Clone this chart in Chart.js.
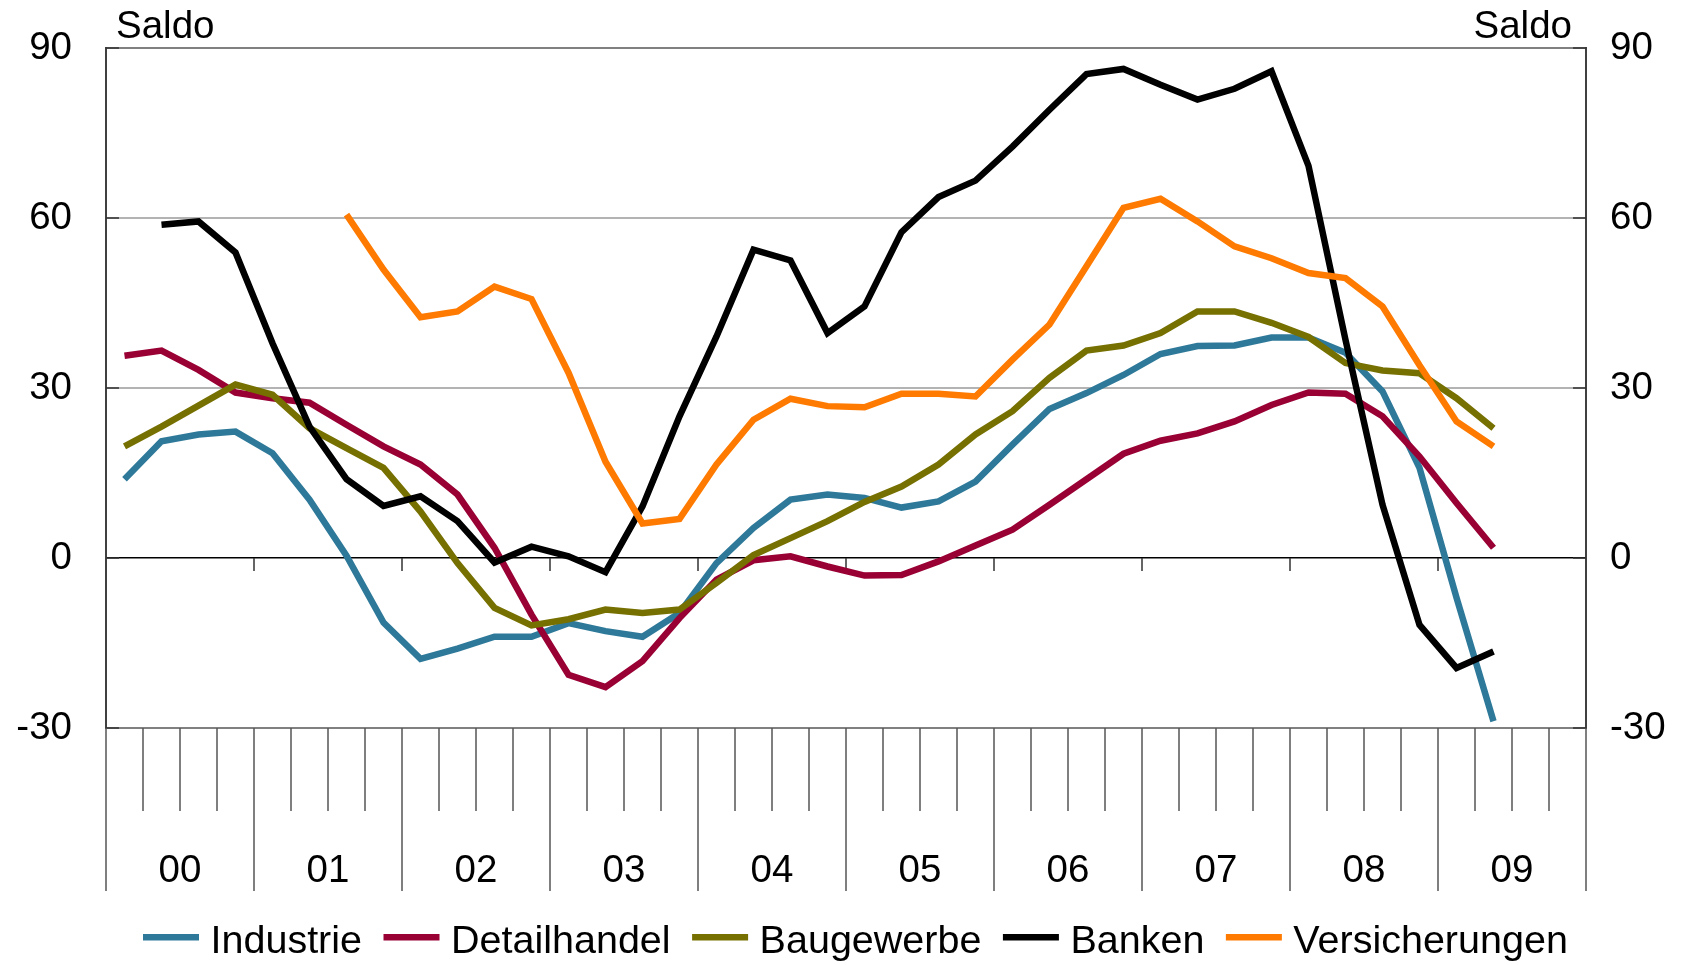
<!DOCTYPE html>
<html>
<head>
<meta charset="utf-8">
<title>Saldo</title>
<script src="https://cdn.jsdelivr.net/npm/chart.js@4.4.1/dist/chart.umd.min.js"></script>
<style>
  html, body { margin: 0; padding: 0; background: #fff; }
  #wrap { width: 1689px; height: 965px; }
</style>
</head>
<body>
<div id="wrap"><canvas id="myChart"></canvas></div>
<script>
// years on the axis, four quarters each
const years = ["00", "01", "02", "03", "04", "05", "06", "07", "08", "09"];
const quarters = ["Q1", "Q2", "Q3", "Q4"];
const yTicks = [-30, 0, 30, 60, 90];

const industrie = [13.9, 20.6, 21.8, 22.3, 18.5, 10.3, 0.4, -11.4, -17.8, -16.0,
  -13.9, -13.9, -11.5, -12.9, -13.9, -9.7, -0.9, 5.3, 10.3, 11.2,
  10.6, 8.9, 10.0, 13.5, 20.0, 26.3, 29.1, 32.3, 36.0, 37.4,
  37.5, 38.9, 38.9, 36.2, 29.4, 15.9, -7.0, -28.8];
const detailhandel = [35.7, 36.6, 33.2, 29.2, 28.2, 27.4, 23.5, 19.7, 16.5, 11.2,
  1.8, -10.0, -20.6, -22.8, -18.2, -10.6, -3.8, -0.4, 0.3, -1.5,
  -3.1, -3.0, -0.6, 2.2, 5.0, 9.4, 13.9, 18.4, 20.7, 22.0,
  24.1, 27.0, 29.2, 29.0, 25.0, 17.9, 9.7, 1.8];
const baugewerbe = [19.7, 23.2, 26.9, 30.6, 28.8, 22.9, 19.4, 15.9, 8.2, -0.9,
  -8.8, -11.9, -10.8, -9.1, -9.7, -9.1, -4.4, 0.5, 3.5, 6.5,
  9.9, 12.6, 16.5, 21.8, 25.9, 31.8, 36.6, 37.5, 39.7, 43.5,
  43.5, 41.5, 39.0, 34.4, 33.1, 32.6, 28.2, 22.9];
const banken = [null, 58.8, 59.4, 53.9, 37.9, 23.2, 13.9, 9.2, 10.9, 6.5,
  -0.8, 2.0, 0.3, -2.5, 9.1, 25.0, 39.1, 54.4, 52.5, 39.7,
  44.4, 57.5, 63.7, 66.6, 72.6, 79.1, 85.4, 86.3, 83.5, 80.9,
  82.8, 85.9, 69.2, 38.5, 9.4, -11.8, -19.4, -16.5];
const versicherungen = [null, null, null, null, null, null, 60.6, 50.9, 42.5, 43.5,
  47.9, 45.7, 32.7, 17.0, 6.1, 6.9, 16.5, 24.4, 28.1, 26.8,
  26.6, 29.0, 29.0, 28.5, 35.0, 41.2, 51.5, 61.8, 63.4, 59.4,
  55.0, 52.9, 50.3, 49.4, 44.4, 34.0, 24.1, 19.7];

const labels = [];
years.forEach(yr => quarters.forEach(q => labels.push(yr + " " + q)));

const FAMILY = "'Liberation Sans', Arial, sans-serif";
const FONT = 38.5;
const LEGEND_FONT = 39.5;
Chart.defaults.font.family = FAMILY;
Chart.defaults.font.size = FONT;
Chart.defaults.color = "#000";

function series(label, data, color, order) {
  return {
    label: label,
    data: data,
    borderColor: color,
    backgroundColor: color,
    borderWidth: 6.5,
    pointRadius: 0,
    tension: 0,
    spanGaps: false,
    order: order
  };
}

// ticks, year labels, "Saldo" and the legend row
const extras = {
  id: "extras",
  beforeDatasetsDraw(chart) {
    const ctx = chart.ctx;
    const a = chart.chartArea;
    const x = chart.scales.x;
    const y = chart.scales.y;
    const bx = k => x.getPixelForValue(k - 0.5);
    const y0 = y.getPixelForValue(0);

    ctx.save();
    ctx.strokeStyle = "#333";
    ctx.lineWidth = 1.5;
    ctx.beginPath();
    yTicks.forEach(v => {
      const py = y.getPixelForValue(v);
      ctx.moveTo(a.left, py); ctx.lineTo(a.left + 13, py);
      ctx.moveTo(a.right, py); ctx.lineTo(a.right - 13, py);
    });
    for (let k = 4; k < labels.length; k += 4) {
      ctx.moveTo(bx(k), y0); ctx.lineTo(bx(k), y0 + 13);
    }
    ctx.stroke();

    ctx.strokeStyle = "#555";
    ctx.beginPath();
    for (let k = 0; k <= labels.length; k++) {
      const px = bx(k);
      ctx.moveTo(px, a.bottom);
      ctx.lineTo(px, a.bottom + (k % 4 === 0 ? 163 : 83));
    }
    ctx.stroke();

    ctx.fillStyle = "#000";
    ctx.font = FONT + "px " + FAMILY;
    ctx.textBaseline = "middle";
    ctx.textAlign = "center";
    years.forEach((yr, j) => {
      ctx.fillText(yr, (bx(j * 4) + bx(j * 4 + 4)) / 2, a.bottom + 143);
    });
    ctx.textAlign = "left";
    ctx.fillText("Saldo", a.left + 10, 27);
    ctx.textAlign = "right";
    ctx.fillText("Saldo", a.right - 14, 27);

    // legend
    ctx.font = LEGEND_FONT + "px " + FAMILY;
    ctx.textAlign = "left";
    let lx = 143;
    const ly = 942;
    chart.data.datasets.forEach(d => {
      ctx.fillStyle = d.borderColor;
      ctx.fillRect(lx, ly - 8, 56, 6.5);
      lx += 56 + 11.5;
      ctx.fillStyle = "#000";
      ctx.fillText(d.label, lx, ly);
      lx += ctx.measureText(d.label).width + 21.5;
    });
    ctx.restore();
  }
};

function gridColor(c) {
  const v = c.tick.value;
  if (v === 0) return "#000";
  if (v === 90 || v === -30) return "#808080";
  return "#b3b3b3";
}

new Chart(document.getElementById("myChart"), {
  type: "line",
  data: {
    labels: labels,
    datasets: [
      series("Industrie", industrie, "#2E7999", 5),
      series("Detailhandel", detailhandel, "#990033", 4),
      series("Baugewerbe", baugewerbe, "#767000", 3),
      series("Banken", banken, "#000000", 2),
      series("Versicherungen", versicherungen, "#FF7A00", 1)
    ]
  },
  options: {
    responsive: true,
    maintainAspectRatio: false,
    animation: false,
    devicePixelRatio: 1,
    layout: { padding: { top: 48, left: 0, right: 0, bottom: 60 } },
    plugins: {
      tooltip: { enabled: false },
      legend: { display: false }
    },
    scales: {
      x: {
        type: "category",
        offset: true,
        ticks: { display: false },
        grid: { display: false },
        border: { display: false },
        afterFit: s => { s.height = 177; }
      },
      y: {
        position: "left",
        min: -30,
        max: 90,
        // label gap comes from an invisible tick mark, tick padding would push the plot top down
        ticks: { stepSize: 30, padding: 0, font: { size: FONT } },
        grid: {
          color: gridColor,
          lineWidth: c => (c.tick.value === 0 ? 1.5 : 2),
          drawTicks: true,
          tickLength: 34,
          tickColor: "rgba(0,0,0,0)"
        },
        border: { color: "#404040", width: 2 },
        afterFit: s => { s.width = 106; }
      },
      y2: {
        position: "right",
        min: -30,
        max: 90,
        ticks: { stepSize: 30, padding: 0, font: { size: FONT } },
        grid: {
          drawOnChartArea: false,
          drawTicks: true,
          tickLength: 24,
          tickColor: "rgba(0,0,0,0)"
        },
        border: { color: "#404040", width: 2 },
        afterFit: s => { s.width = 103; }
      }
    }
  },
  plugins: [extras]
});
</script>
</body>
</html>
